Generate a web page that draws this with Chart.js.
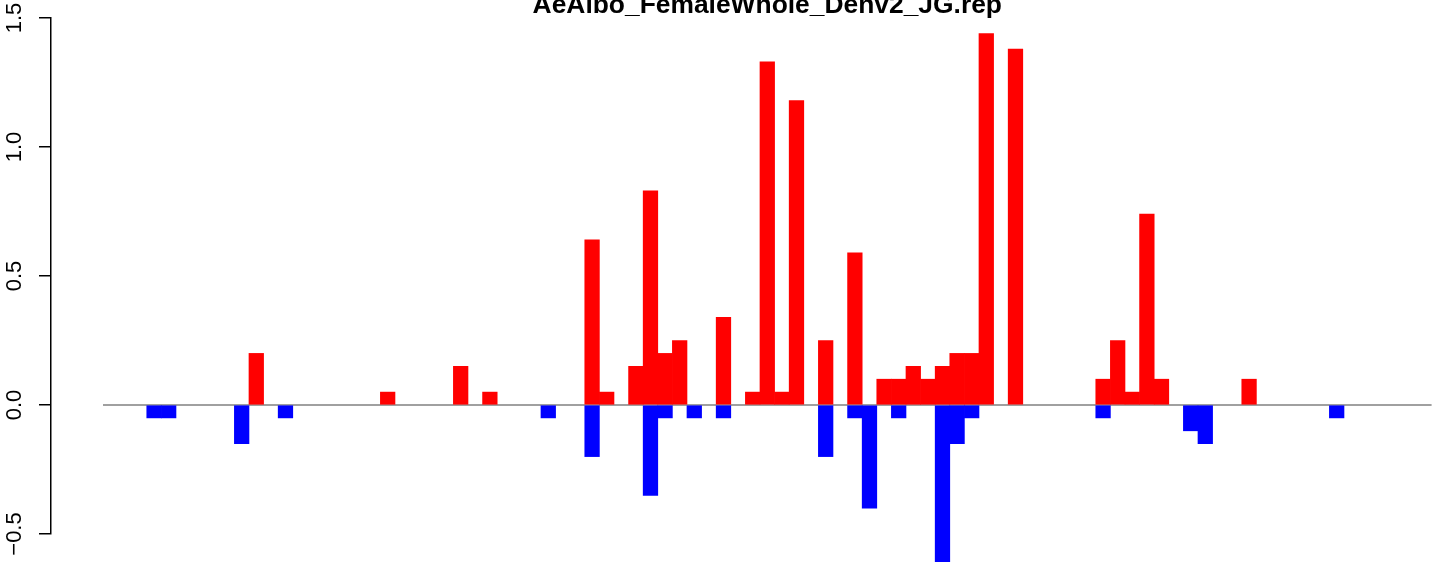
<!DOCTYPE html>
<html>
<head>
<meta charset="utf-8">
<script src="https://cdn.jsdelivr.net/npm/chart.js@4/dist/chart.umd.min.js"></script>
<style>
  html, body { margin: 0; padding: 0; background: #fff; overflow: hidden; }
  #wrap { width: 1444px; height: 562px; position: relative; }
</style>
</head>
<body>
<div id="wrap"><canvas id="bars"></canvas></div>
<script>
// one value per bin (91 bins)
const upVals = [
  0, 0, 0, 0, 0, 0, 0, 0, 0, 0,
  0.2, 0, 0, 0, 0, 0, 0, 0, 0, 0.05,
  0, 0, 0, 0, 0.15, 0, 0.05, 0, 0, 0,
  0, 0, 0, 0.64, 0.05, 0, 0.15, 0.83, 0.2, 0.25,
  0, 0, 0.34, 0, 0.05, 1.33, 0.05, 1.18, 0, 0.25,
  0, 0.59, 0, 0.1, 0.1, 0.15, 0.1, 0.15, 0.2, 0.2,
  1.44, 0, 1.38, 0, 0, 0, 0, 0, 0.1, 0.25,
  0.05, 0.74, 0.1, 0, 0, 0, 0, 0, 0.1, 0,
  0, 0, 0, 0, 0, 0, 0, 0, 0, 0,
  0
]
const downVals = [
  0, 0, 0, -0.05, -0.05, 0, 0, 0, 0, -0.15,
  0, 0, -0.05, 0, 0, 0, 0, 0, 0, 0,
  0, 0, 0, 0, 0, 0, 0, 0, 0, 0,
  -0.05, 0, 0, -0.2, 0, 0, 0, -0.35, -0.05, 0,
  -0.05, 0, -0.05, 0, 0, 0, 0, 0, 0, -0.2,
  0, -0.05, -0.4, 0, -0.05, 0, 0, -0.62, -0.15, -0.05,
  0, 0, 0, 0, 0, 0, 0, 0, -0.05, 0,
  0, 0, 0, 0, -0.1, -0.15, 0, 0, 0, 0,
  0, 0, 0, 0, -0.05, 0, 0, 0, 0, 0,
  0
]
const yTicks = [-0.5, 0, 0.5, 1, 1.5]
const chartTitle = 'AeAlbo_FemaleWhole_Denv2_JG.rep'

// zero bins are left empty so nothing gets drawn for them
const upData = upVals.map((v, i) => ({ x: i, y: v === 0 ? null : v }))
const downData = downVals.map((v, i) => ({ x: i, y: v === 0 ? null : v }))

// grey line under the bars, across the whole bar range
const zeroLine = {
    id: 'zeroLine',
    beforeDatasetsDraw(chart) {
        const xs = chart.scales.x, ys = chart.scales.y
        const ctx = chart.ctx
        const y0 = ys.getPixelForValue(0)
        ctx.save()
        ctx.strokeStyle = '#808080'
        ctx.lineWidth = 1.6
        ctx.beginPath()
        ctx.moveTo(xs.getPixelForValue(-0.5), y0)
        ctx.lineTo(xs.getPixelForValue(upVals.length - 0.5), y0)
        ctx.stroke()
        ctx.restore()
    }
}

// title sits half off the top edge, centred on the bars
const topTitle = {
    id: 'topTitle',
    afterDraw(chart) {
        const xs = chart.scales.x
        const ctx = chart.ctx
        ctx.save()
        ctx.font = 'bold 26.4px "Liberation Sans", Arial, sans-serif'
        ctx.fillStyle = '#000'
        ctx.textAlign = 'center'
        ctx.textBaseline = 'alphabetic'
        ctx.fillText(chartTitle, xs.getPixelForValue((upVals.length - 1) / 2), 13)
        ctx.restore()
    }
}

const ctx = document.getElementById('bars')
const myChart = new Chart(ctx, {
    type: 'bar',
    data: {
        datasets: [
            {
                label: 'up',
                data: upData,
                backgroundColor: '#ff0000',
                borderWidth: 0,
                grouped: false,
                barPercentage: 1,
                categoryPercentage: 1,
                clip: false
            },
            {
                label: 'down',
                data: downData,
                backgroundColor: '#0000ff',
                borderWidth: 0,
                grouped: false,
                barPercentage: 1,
                categoryPercentage: 1,
                clip: false
            }
        ]
    },
    options: {
        responsive: true,
        maintainAspectRatio: false,
        animation: false,
        layout: { padding: { top: 18, bottom: 28, left: 0, right: 0 } },
        plugins: {
            legend: { display: false },
            tooltip: { enabled: false },
            title: { display: false }
        },
        scales: {
            x: {
                type: 'linear',
                display: false,
                offset: false,
                min: -4.06,
                max: 91.35
            },
            y: {
                min: -0.5,
                max: 1.5,
                afterFit: s => { s.width = 51 },
                afterBuildTicks: s => { s.ticks = yTicks.map(v => ({ value: v })) },
                border: { display: true, color: '#000', width: 1.5 },
                grid: {
                    drawOnChartArea: false,
                    drawTicks: true,
                    tickLength: 12,
                    color: '#000',
                    lineWidth: 1.5
                },
                ticks: {
                    minRotation: 90,
                    maxRotation: 90,
                    crossAlign: 'center',
                    padding: 2,
                    color: '#000',
                    font: { family: '"Liberation Sans", Arial, sans-serif', size: 22 },
                    callback: v => (v < 0 ? '\u2212' : '') + Math.abs(v).toFixed(1)
                }
            }
        }
    },
    plugins: [zeroLine, topTitle]
})
</script>
</body>
</html>
